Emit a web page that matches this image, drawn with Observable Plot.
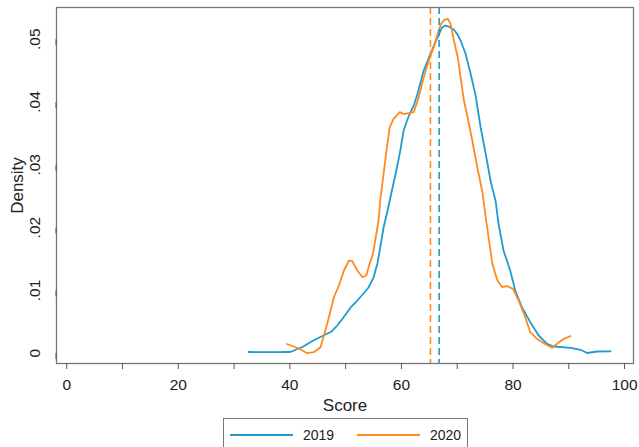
<!DOCTYPE html>
<html>
<head>
<meta charset="utf-8">
<script src="https://cdn.jsdelivr.net/npm/d3@7"></script>
<script src="https://cdn.jsdelivr.net/npm/@observablehq/plot@0.6"></script>
<style>
  html, body { margin: 0; padding: 0; background: #fff; overflow: hidden; }
  #chart svg { display: block; }
</style>
</head>
<body>
<div id="chart"></div>
<div id="legend"></div>
<script>
// ---- Data ----
const years = ["2019", "2020"];
const colors = ["#1f9bcf", "#ff8a1f"];
const meanScores = [66.76, 65.2];

const score2019 = [32.6, 34.7, 37.4, 40.1, 42.4, 44.2, 46.0, 47.5, 48.5, 49.6, 50.9, 52.1, 53.2, 54.1, 55.0, 55.7, 56.2, 56.8, 57.4, 58.3, 59.2, 59.8, 60.4, 61.0, 61.6, 62.2, 62.8, 64.0, 65.2, 66.1, 66.9, 67.3, 67.9, 68.5, 69.4, 70.0, 70.6, 71.5, 72.4, 73.3, 74.2, 75.1, 76.0, 76.9, 77.4, 78.3, 79.5, 80.4, 81.6, 83.1, 84.6, 86.1, 87.3, 90.4, 92.1, 93.3, 95.1, 97.5];
const density2019 = [0.00019, 0.00016, 0.00016, 0.00019, 0.00107, 0.00202, 0.00282, 0.00346, 0.00441, 0.00569, 0.00728, 0.00839, 0.00951, 0.01046, 0.01205, 0.01428, 0.01683, 0.02002, 0.02225, 0.02591, 0.02957, 0.03228, 0.03546, 0.03705, 0.03833, 0.03944, 0.04103, 0.04501, 0.04768, 0.04952, 0.05111, 0.05191, 0.05218, 0.05202, 0.05150, 0.05086, 0.04979, 0.04768, 0.04449, 0.04103, 0.03594, 0.03178, 0.02734, 0.02415, 0.02065, 0.01635, 0.01317, 0.00998, 0.00732, 0.00494, 0.00282, 0.00150, 0.00107, 0.00086, 0.00054, 0.00003, 0.00027, 0.00030];

const score2020 = [39.5, 41.6, 43.1, 44.3, 45.5, 46.1, 46.7, 47.3, 47.9, 48.8, 49.7, 50.6, 51.2, 52.1, 53.0, 53.7, 54.3, 54.9, 55.3, 55.9, 56.2, 56.8, 57.4, 57.9, 58.6, 59.7, 60.4, 61.3, 62.2, 63.1, 64.0, 64.9, 65.8, 66.5, 67.1, 67.7, 68.3, 68.8, 69.4, 70.1, 70.6, 71.2, 71.8, 72.7, 73.6, 74.5, 75.1, 75.7, 76.3, 77.2, 78.1, 78.9, 80.0, 81.0, 82.2, 83.1, 84.3, 85.5, 87.0, 87.9, 89.1, 90.3];
const density2020 = [0.00146, 0.00075, 0.0, 0.00016, 0.00096, 0.00282, 0.00468, 0.00680, 0.00892, 0.01078, 0.01317, 0.01476, 0.01465, 0.01317, 0.01210, 0.01237, 0.01424, 0.01583, 0.01795, 0.02113, 0.02432, 0.02857, 0.03280, 0.03599, 0.03732, 0.03838, 0.03809, 0.03822, 0.03838, 0.04076, 0.04395, 0.04661, 0.04873, 0.05086, 0.05245, 0.05309, 0.05325, 0.05245, 0.04979, 0.04713, 0.04395, 0.04024, 0.03785, 0.03387, 0.02957, 0.02575, 0.02166, 0.01795, 0.01424, 0.01158, 0.01051, 0.01070, 0.01025, 0.00839, 0.00573, 0.00334, 0.00229, 0.00159, 0.00086, 0.00150, 0.00229, 0.00271];

const xMajorTicks = [0, 20, 40, 60, 80, 100];
const xMinorTicks = [10, 30, 50, 70, 90];
const yTicks = [0, 0.01, 0.02, 0.03, 0.04, 0.05];

// ---- Build tables ----
const series = [
  score2019.map((s, i) => ({score: s, density: density2019[i], year: years[0]})),
  score2020.map((s, i) => ({score: s, density: density2020[i], year: years[1]}))
];
const means = years.map((y, i) => ({year: y, mean: meanScores[i]}));

const fontFamily = "'Liberation Sans', Arial, Helvetica, sans-serif";
const ink = "#222";

const chart = Plot.plot({
  width: 639,
  height: 414,
  marginLeft: 56,
  marginRight: 6,
  marginTop: 7,
  marginBottom: 51,
  style: {fontFamily, background: "#fff", color: ink, overflow: "visible"},
  x: {domain: [-1.83, 101.6]},
  y: {domain: [-0.00164, 0.05505]},
  color: {domain: years, range: colors},
  marks: [
    Plot.line(series[0], {x: "score", y: "density", stroke: colors[0], strokeWidth: 1.8}),
    Plot.line(series[1], {x: "score", y: "density", stroke: colors[1], strokeWidth: 1.8}),
    Plot.ruleX(means, {x: "mean", stroke: "year", strokeWidth: 1.6, strokeDasharray: "7,4"}),
    Plot.frame({stroke: "#777", strokeWidth: 1.3}),
    Plot.axisX({ticks: xMajorTicks, tickSize: 6, tickPadding: 9, fontSize: 15.5, stroke: "#555", fill: ink, label: null}),
    Plot.axisX({ticks: xMinorTicks, tickSize: 6, text: null, stroke: "#555", label: null}),
    Plot.axisX({ticks: [], label: "Score", labelAnchor: "center", labelArrow: "none", labelOffset: 47, fontSize: 17, fill: ink}),
    Plot.axisY({ticks: yTicks, tickSize: 6, tickPadding: 15.5, fontSize: 15.5, stroke: "#555", fill: ink,
      rotate: -90, textAnchor: "middle",
      tickFormat: d => d === 0 ? "0" : d.toFixed(2).replace(/^0/, ""), label: null}),
    Plot.axisY({ticks: [], label: "Density", labelAnchor: "center", labelArrow: "none", labelOffset: 46, fontSize: 17, fill: ink})
  ]
});
document.getElementById("chart").appendChild(chart);

// ---- Legend (below the SVG) ----
const leg = d3.select("#legend")
  .style("margin", "4px 0 0 223px")
  .style("width", "245px")
  .style("height", "40px")
  .style("box-sizing", "border-box")
  .style("border", "1px solid #777");
const lsvg = leg.append("svg").attr("width", 243).attr("height", 38).style("display", "block");
const lineStarts = [6, 133];
years.forEach((y, i) => {
  const x0 = lineStarts[i];
  lsvg.append("line").attr("x1", x0).attr("x2", x0 + 63).attr("y1", 16).attr("y2", 16)
    .attr("stroke", colors[i]).attr("stroke-width", 2);
  lsvg.append("text").attr("x", x0 + 73).attr("y", 16).attr("dy", "0.35em")
    .attr("font-family", fontFamily).attr("font-size", 14).attr("fill", ink).text(y);
});
</script>
</body>
</html>
